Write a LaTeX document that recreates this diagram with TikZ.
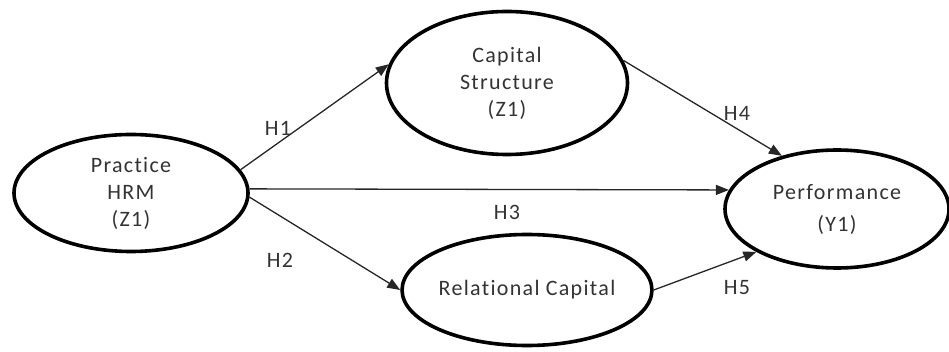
\documentclass[tikz,border=0pt]{standalone}
\usepackage{fontspec}
\setmainfont{Carlito}[LetterSpace=6,Ligatures={NoCommon}]
\usetikzlibrary{shapes.geometric,arrows.meta}
\begin{document}
\begin{tikzpicture}[x=1pt,y=-1pt,
  latent/.style={ellipse,draw=black,line width=3.6pt,inner sep=0pt,align=center,
    text=black!80,font=\fontsize{22}{27}\selectfont},
  path/.style={draw=black!85,line width=1.3pt,-{Triangle[length=13pt,width=10pt]}},
  hlab/.style={text=black!80,font=\fontsize{22}{24}\selectfont,inner sep=0pt}]
\useasboundingbox (0,0) rectangle (949,352);
\node[latent,minimum width=234pt,minimum height=117pt] (hrm) at (131,193) {Practice\\HRM\\(Z1)};
\node[latent,minimum width=241pt,minimum height=143pt] (cap) at (507,83) {Capital\\Structure\\(Z1)};
\node[latent,minimum width=224pt,minimum height=118pt] (perf) at (837,209) {Performance\\[5pt](Y1)};
\node[latent,minimum width=247pt,minimum height=111pt] (rel) at (527,290) {Relational Capital};
\draw[path] (hrm.12.6) -- (cap.171.1);
\draw[path] (hrm.2.9) -- (perf.170.3);
\draw[path] (hrm.-2.4) -- (rel.180);
\draw[path] (cap.11.2) -- (perf.136.4);
\draw[path] (rel.0) -- (perf.208.3);
\node[hlab] (h1) at (278,128) {H1};
\node[hlab] (h2) at (280,260) {H2};
\node[hlab] (h3) at (507,212) {H3};
\node[hlab] (h4) at (737,113) {H4};
\node[hlab] (h5) at (737,288) {H5};
\end{tikzpicture}
\end{document}
